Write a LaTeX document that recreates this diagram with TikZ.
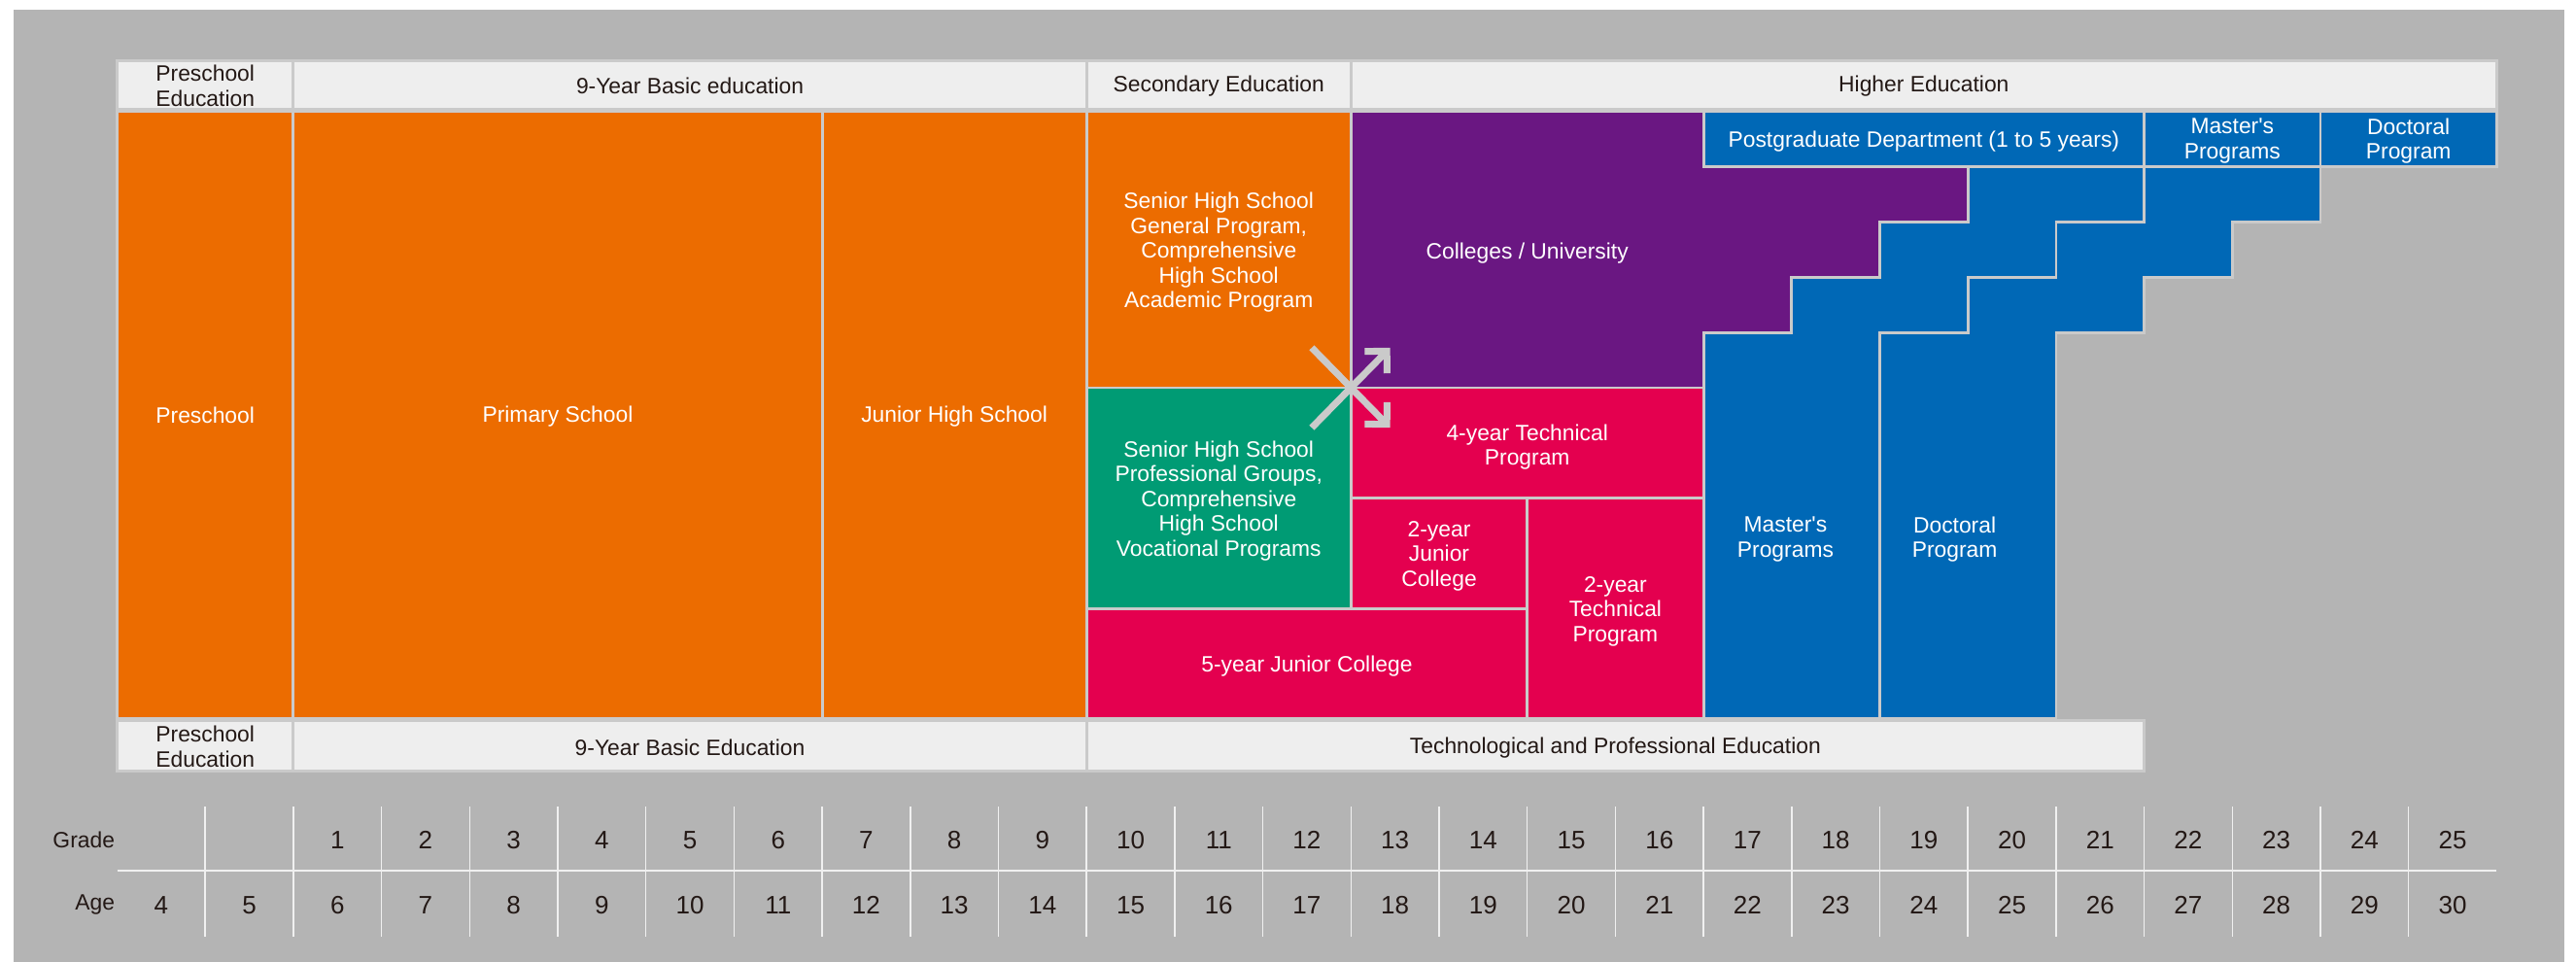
\documentclass[tikz,border=0pt]{standalone}
\usepackage{fontspec}
\setmainfont{Liberation Sans}
\usetikzlibrary{arrows.meta}

\definecolor{bgGray}{HTML}{B4B4B4}
\definecolor{lineGray}{HTML}{CACACA}
\definecolor{hdrFill}{HTML}{EEEEEE}
\definecolor{txtDark}{HTML}{231815}
\definecolor{eduOrange}{HTML}{EC6C00}
\definecolor{eduGreen}{HTML}{009B74}
\definecolor{eduPink}{HTML}{E4004F}
\definecolor{eduPurple}{HTML}{6A1782}
\definecolor{eduBlue}{HTML}{0068B6}

\tikzset{
  blk/.style={draw=lineGray, line width=0.8pt},
  hdr/.style={draw=lineGray, line width=0.8pt, fill=hdrFill},
  wtxt/.style={text=white, align=center, inner sep=0pt, font=\fontsize{6.5}{7.25}\selectfont},
  dtxt/.style={text=txtDark, align=center, inner sep=0pt, font=\fontsize{6.5}{7.4}\selectfont},
  num/.style={text=txtDark, inner sep=0pt, font=\fontsize{7.4}{8}\selectfont},
  gridln/.style={draw=white!94!black, line width=0.45pt},
  xarrow/.style={draw=lineGray, line width=2pt, -{Straight Barb[angle=90:6.5pt]}}
}

\begin{document}
\begin{tikzpicture}[x=0.907cm, y=0.568cm]
    % Background
    \useasboundingbox (-1.3286,2.025) rectangle (27.900,-15.405);
    \fill[white] (-1.3286,2.025) rectangle (27.900,-15.405);
    \fill[bgGray] (-1.174,1.849) rectangle (27.767,-15.405);

    % Top headers
    \draw[hdr] (0,0.05) rectangle (2,0.92);
    \draw[hdr] (2,0.05) rectangle (11,0.92);
    \draw[hdr] (11,0.05) rectangle (14,0.92);
    \draw[hdr] (14,0.05) rectangle (27,0.92);
    \node[dtxt] (topPre) at (1,0.47) {Preschool\\Education};
    \node[dtxt] (topBasic) at (6.5,0.47) {9-Year Basic education};
    \node[dtxt] (topSec) at (12.5,0.47) {Secondary Education};
    \node[dtxt] (topHigh) at (20.5,0.47) {Higher Education};

    % Basic education blocks
    \draw[blk, fill=eduOrange] (0,0) rectangle (2,-11);
    \draw[blk, fill=eduOrange] (2,0) rectangle (8,-11);
    \draw[blk, fill=eduOrange] (8,0) rectangle (11,-11);
    \node[wtxt] (preschool) at (1,-5.5) {Preschool};
    \node[wtxt] (primary) at (5,-5.52) {Primary School};
    \node[wtxt] (junior) at (9.5,-5.52) {Junior High School};

    % Senior high school
    \draw[blk, fill=eduOrange] (11,0) rectangle (14,-5);
    \draw[blk, fill=eduGreen] (11,-5) rectangle (14,-9);
    \node[wtxt] (shsGen) at (12.5,-2.55) {Senior High School\\General Program,\\Comprehensive\\High School\\Academic Program};
    \node[wtxt] (shsVoc) at (12.5,-7.05) {Senior High School\\Professional Groups,\\Comprehensive\\High School\\Vocational Programs};

    % Technological and professional programs
    \draw[blk, fill=eduPink] (11,-9) rectangle (16,-11);
    \draw[blk, fill=eduPink] (14,-5) rectangle (18,-7);
    \draw[blk, fill=eduPink] (14,-7) rectangle (16,-9);
    \draw[blk, fill=eduPink] (16,-7) rectangle (18,-11);
    \node[wtxt] (fiveJC) at (13.5,-10.05) {5-year Junior College};
    \node[wtxt] (fourTech) at (16,-6.08) {4-year Technical\\Program};
    \node[wtxt] (twoJC) at (15,-8.05) {2-year\\Junior\\College};
    \node[wtxt] (twoTech) at (17,-9.05) {2-year\\Technical\\Program};

    % Colleges / University
    \draw[blk, fill=eduPurple] (14,0) -- (18,0) -- (18,-1) -- (21,-1) -- (21,-2) -- (20,-2) -- (20,-3)
        -- (19,-3) -- (19,-4) -- (18,-4) -- (18,-5) -- (14,-5) -- cycle;
    \node[wtxt] (college) at (16,-2.57) {Colleges / University};

    % Postgraduate staircases
    \draw[blk, fill=eduBlue] (18,-11) -- (18,-4) -- (19,-4) -- (19,-3) -- (20,-3) -- (20,-2) -- (21,-2)
        -- (21,-1) -- (23,-1) -- (23,-2) -- (22,-2) -- (22,-3) -- (21,-3) -- (21,-4) -- (20,-4) -- (20,-11) -- cycle;
    \draw[blk, fill=eduBlue] (20,-11) -- (20,-4) -- (21,-4) -- (21,-3) -- (22,-3) -- (22,-2) -- (23,-2)
        -- (23,-1) -- (25,-1) -- (25,-2) -- (24,-2) -- (24,-3) -- (23,-3) -- (23,-4) -- (22,-4) -- (22,-11) -- cycle;
    \draw[blk, fill=eduBlue] (18,0) rectangle (23,-1);
    \draw[blk, fill=eduBlue] (23,0) rectangle (25,-1);
    \draw[blk, fill=eduBlue] (25,0) rectangle (27,-1);
    \node[wtxt] (postgrad) at (20.5,-0.53) {Postgraduate Department (1 to 5 years)};
    \node[wtxt] (masterTop) at (24,-0.53) {Master\textquotesingle s\\Programs};
    \node[wtxt] (doctorTop) at (26,-0.53) {Doctoral\\Program};
    \node[wtxt] (master) at (18.93,-7.75) {Master\textquotesingle s\\Programs};
    \node[wtxt] (doctor) at (20.85,-7.75) {Doctoral\\Program};

    % Crossing arrows
    \coordinate (xUL) at (13.555,-4.275);
    \coordinate (xLR) at (14.445,-5.725);
    \coordinate (xLL) at (13.555,-5.725);
    \coordinate (xUR) at (14.445,-4.275);
    \draw[xarrow] (xUL) -- (xLR);
    \draw[xarrow] (xLL) -- (xUR);

    % Bottom headers
    \draw[hdr] (0,-11.03) rectangle (2,-11.95);
    \draw[hdr] (2,-11.03) rectangle (11,-11.95);
    \draw[hdr] (11,-11.03) rectangle (23,-11.95);
    \node[dtxt] (botPre) at (1,-11.5) {Preschool\\Education};
    \node[dtxt] (botBasic) at (6.5,-11.52) {9-Year Basic Education};
    \node[dtxt] (botTech) at (17,-11.52) {Technological and Professional Education};

    % Grade / age scale
    \foreach \c in {1,...,26}
        \draw[gridln] (\c,-12.59) -- (\c,-14.95);
    \draw[gridln] (0,-13.75) -- (27,-13.75);
    \node[num, anchor=east, font=\fontsize{6.5}{7.4}\selectfont] (gradeLbl) at (-0.02,-13.19) {Grade};
    \node[num, anchor=east, font=\fontsize{6.5}{7.4}\selectfont] (ageLbl) at (-0.02,-14.37) {Age};
    \foreach \g in {1,...,25}
        \node[num] (grade\g) at (\g+1.5,-13.19) {\g};
    \foreach \a [count=\i from 0] in {4,...,30}
        \node[num] (age\a) at (\i+0.5,-14.37) {\a};
\end{tikzpicture}
\end{document}
